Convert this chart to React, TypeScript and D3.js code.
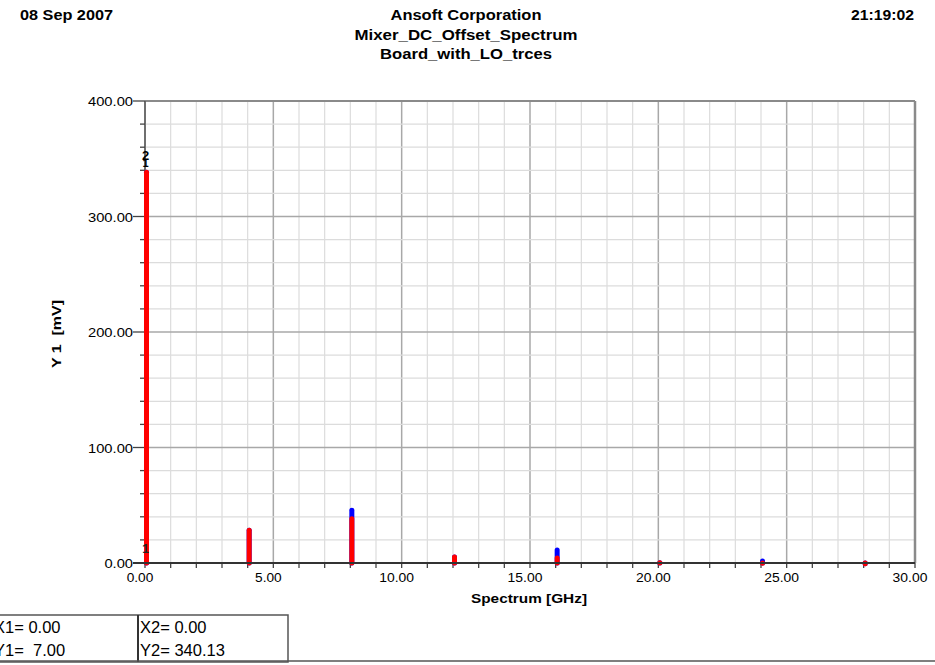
import * as d3 from "d3"
import React from "react"

// spectrum lines (GHz) and their magnitudes (mV)
const freqs = [0, 4, 8, 12, 16, 20, 24, 28]
const blueVals = [340.13, 30, 47.5, 7, 13, 2, 3.5, 1]
const redVals = [340.13, 30, 40, 7, 6, 2, 1.5, 1]

const xTicks = [0, 5, 10, 15, 20, 25, 30]
const yTicks = [0, 100, 200, 300, 400]

const headerLeft = "08 Sep 2007"
const headerRight = "21:19:02"
const titles = ["Ansoft Corporation", "Mixer_DC_Offset_Spectrum", "Board_with_LO_trces"]
const markerRows = [
  ["X1= 0.00", "X2= 0.00"],
  ["Y1=\u00a0 7.00", "Y2= 340.13"],
]

const W = 935
const H = 665
const font = "Arial, 'Liberation Sans', sans-serif"

const App = () => {
  const x = d3.scaleLinear().domain([0, 30]).range([145, 915])
  const y = d3.scaleLinear().domain([0, 400]).range([563, 101])

  const minorX = d3.range(0, 31, 1)
  const minorY = d3.range(0, 401, 20)

  const numLen = (s) => s.replace(".", "").length * 8.2 + 4

  return (
    <svg
      width={W}
      height={H}
      viewBox={`0 0 ${W} ${H}`}
      style={{ position: "absolute", left: 0, top: 0, background: "#fff" }}
      fontFamily={font}
    >
      {/* header */}
      <text x={20} y={20} fontSize={14} fontWeight="bold" textLength={93} lengthAdjust="spacingAndGlyphs">
        {headerLeft}
      </text>
      <text x={914} y={20} fontSize={14} fontWeight="bold" textAnchor="end" textLength={63} lengthAdjust="spacingAndGlyphs">
        {headerRight}
      </text>
      {titles.map((t, i) => (
        <text
          key={t}
          x={466}
          y={20 + i * 19.5}
          fontSize={14}
          fontWeight="bold"
          textAnchor="middle"
          textLength={[151, 223, 172][i]}
          lengthAdjust="spacingAndGlyphs"
        >
          {t}
        </text>
      ))}

      {/* grid */}
      {minorX.map((v) => (
        <line
          key={"gx" + v}
          x1={x(v)}
          x2={x(v)}
          y1={y(400)}
          y2={y(0)}
          stroke={v % 5 === 0 ? "#a8a8a8" : "#dcdcdc"}
          strokeWidth={v % 5 === 0 ? 1.5 : 1.2}
        />
      ))}
      {minorY.map((v) => (
        <line
          key={"gy" + v}
          x1={x(0)}
          x2={x(30)}
          y1={y(v)}
          y2={y(v)}
          stroke={v % 100 === 0 ? "#a8a8a8" : "#dcdcdc"}
          strokeWidth={v % 100 === 0 ? 1.5 : 1.2}
        />
      ))}

      {/* frame */}
      <line x1={x(0)} x2={x(30)} y1={y(400)} y2={y(400)} stroke="#8a8a8a" strokeWidth={2} />
      <line x1={x(30)} x2={x(30)} y1={y(400)} y2={y(0)} stroke="#8a8a8a" strokeWidth={2.5} />
      <line x1={x(0)} x2={x(0)} y1={y(400)} y2={y(0)} stroke="#555" strokeWidth={1.5} />

      {/* axis ticks */}
      {minorY.map((v) => (
        <line
          key={"ty" + v}
          x1={x(0) - (v % 100 === 0 ? 12 : 5)}
          x2={x(0)}
          y1={y(v)}
          y2={y(v)}
          stroke="#444"
          strokeWidth={1.3}
        />
      ))}
      {minorX.map((v) => (
        <line key={"tx" + v} x1={x(v)} x2={x(v)} y1={y(0)} y2={y(0) + 5} stroke="#444" strokeWidth={1.3} />
      ))}

      {/* spectrum lines */}
      {freqs.map((f, i) => (
        <line
          key={"b" + f}
          x1={x(f) + 1.5}
          x2={x(f) + 1.5}
          y1={y(0)}
          y2={y(blueVals[i]) + 2}
          stroke="#0000ff"
          strokeWidth={5}
          strokeLinecap="round"
        />
      ))}
      {freqs.map((f, i) => (
        <line
          key={"r" + f}
          x1={x(f) + 1.5}
          x2={x(f) + 1.5}
          y1={y(0)}
          y2={y(redVals[i]) + 2}
          stroke="#ff0000"
          strokeWidth={5}
          strokeLinecap="round"
        />
      ))}

      <line x1={x(0) - 12} x2={x(30)} y1={y(0)} y2={y(0)} stroke="#333" strokeWidth={2} />

      {/* marker labels */}
      <text x={x(0) + 0.5} y={y(340.13) - 10} fontSize={13} fontWeight="bold" textAnchor="middle">2</text>
      <text x={x(0) + 0.5} y={y(340.13) - 3} fontSize={11} fontWeight="bold" textAnchor="middle">1</text>
      <text x={x(0) + 0.5} y={y(7) - 2} fontSize={12} fontWeight="bold" textAnchor="middle" fill="#222">1</text>

      {/* tick labels */}
      {yTicks.map((v) => {
        const s = v.toFixed(2)
        return (
          <text
            key={"ly" + v}
            x={133}
            y={y(v) + 5}
            fontSize={12.5}
            textAnchor="end"
            textLength={numLen(s)}
            lengthAdjust="spacingAndGlyphs"
          >
            {s}
          </text>
        )
      })}
      {xTicks.map((v) => {
        const s = v.toFixed(2)
        return (
          <text
            key={"lx" + v}
            x={x(v) - 5}
            y={582}
            fontSize={12.5}
            textAnchor="middle"
            textLength={numLen(s) - 2}
            lengthAdjust="spacingAndGlyphs"
          >
            {s}
          </text>
        )
      })}

      {/* axis titles */}
      <text x={529} y={603} fontSize={13} fontWeight="bold" textAnchor="middle" textLength={116} lengthAdjust="spacingAndGlyphs">
        Spectrum [GHz]
      </text>
      <text
        transform="translate(61,334) rotate(-90)"
        fontSize={13}
        fontWeight="bold"
        textAnchor="middle"
        textLength={68}
        lengthAdjust="spacingAndGlyphs"
        style={{ whiteSpace: "pre" }}
      >
        {"Y 1  [mV]"}
      </text>

      {/* marker table */}
      <rect x={-3} y={615} width={291} height={47} fill="none" stroke="#555" strokeWidth={1.5} />
      <line x1={138} x2={138} y1={615} y2={662} stroke="#333" strokeWidth={2} />
      <line x1={0} x2={W} y1={661} y2={661} stroke="#555" strokeWidth={1.5} />
      {markerRows.map((row, i) => (
        <g key={"m" + i}>
          <text x={-6} y={633 + i * 23} fontSize={16.5}>{row[0]}</text>
          <text x={140} y={633 + i * 23} fontSize={16.5}>{row[1]}</text>
        </g>
      ))}
    </svg>
  )
}

export default App
